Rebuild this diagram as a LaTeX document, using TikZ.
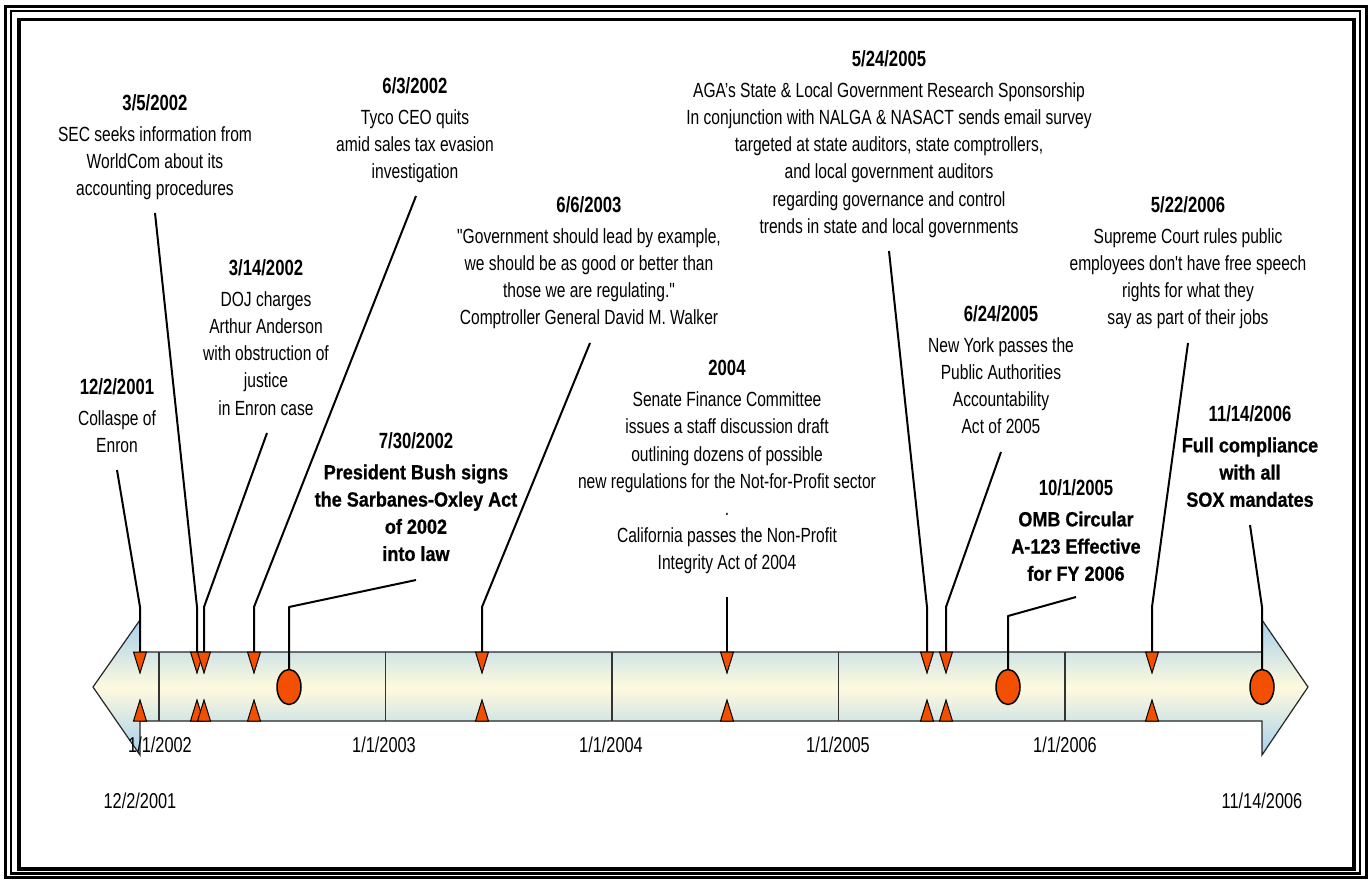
\documentclass[tikz,border=0pt]{standalone}
\usepackage{fontspec}
\setmainfont{Liberation Sans}[FakeStretch=0.76, Ligatures=TeXOff]
\newfontfamily\heavy{Liberation Sans}[FakeStretch=0.88, Ligatures=TeXOff, BoldFeatures={FakeBold=0.8}]
\newcommand\hv[1]{{\heavy\bfseries #1}}
\newcommand\hd[1]{{\fontsize{22}{27}\selectfont\bfseries #1}}
\usetikzlibrary{shapes.geometric}
\definecolor{markc}{RGB}{242,80,0}
\definecolor{abl}{RGB}{166,208,236}
\definecolor{acr}{RGB}{255,250,222}
\tikzset{
 txt/.style={align=center, font=\fontsize{20.5}{27.2}\selectfont, inner sep=0pt, anchor=north},
 lbl/.style={font=\fontsize{21.5}{24}\selectfont, inner sep=0pt},
 conn/.style={line width=2pt, line join=round},
 tri/.style={fill=markc, draw=black, line width=1pt, line join=miter},
 dot/.style={ellipse, fill=markc, draw=black, line width=1.5pt, minimum width=24pt, minimum height=35pt, inner sep=0pt},
 yearline/.style={draw=black!80, line width=1.2pt},
 frame/.style={draw=black},
}
\begin{document}
\begin{tikzpicture}[x=1pt,y=-1pt]
\useasboundingbox (0,0) rectangle (1369,879);
% frame
\draw[frame, line width=3pt] (5.5,6) rectangle (1366.5,877.5);
\draw[frame, line width=2.5pt] (11,11) rectangle (1360,873.5);
\draw[frame, line width=3.5pt] (19,19.5) rectangle (1354,869);
% arrow
\shade[top color=abl, bottom color=abl, middle color=acr, draw=black!85, line width=1.2pt, line join=miter]
 (93,687) -- (140,620) -- (140,652) -- (1262,652) -- (1262,620) -- (1308,687) -- (1262,755) -- (1262,721) -- (140,721) -- (140,755) -- cycle;
\foreach \x in {159,385.5,612,838.5,1065} {\draw[yearline] (\x,652) -- (\x,721);}
% year labels
\node[lbl] (y2002) at (160,745) {1/1/2002};
\node[lbl] (y2003) at (384,745) {1/1/2003};
\node[lbl] (y2004) at (611,745) {1/1/2004};
\node[lbl] (y2005) at (838,745) {1/1/2005};
\node[lbl] (y2006) at (1065,745) {1/1/2006};
\node[lbl] (ystart) at (140,801) {12/2/2001};
\node[lbl] (yend) at (1262,801) {11/14/2006};
% event texts
\node[txt] (e1) at (117,378) {\hd{12/2/2001}\\[4pt]Collaspe of\\Enron};
\node[txt] (e2) at (155,94) {\hd{3/5/2002}\\[4pt]SEC seeks information from\\WorldCom about its\\accounting procedures};
\node[txt] (e3) at (266,259) {\hd{3/14/2002}\\[4pt]DOJ charges\\Arthur Anderson\\with obstruction of\\justice\\in Enron case};
\node[txt] (e4) at (415,77) {\hd{6/3/2002}\\[4pt]Tyco CEO quits\\amid sales tax evasion\\investigation};
\node[txt] (e5) at (416,432) {\hd{7/30/2002}\\[4pt]\hv{President Bush signs}\\\hv{the Sarbanes-Oxley Act}\\\hv{of 2002}\\\hv{into law}};
\node[txt] (e6) at (589,196) {\hd{6/6/2003}\\[4pt]"Government should lead by example,\\we should be as good or better than\\those we are regulating."\\Comptroller General David M. Walker};
\node[txt] (e7) at (727,360) {\hd{2004}\\[4pt]Senate Finance Committee\\issues a staff discussion draft\\outlining dozens of possible\\new regulations for the Not-for-Profit sector\\.\\California passes the Non-Profit\\Integrity Act of 2004};
\node[txt] (e8) at (889,50) {\hd{5/24/2005}\\[4pt]AGA’s State \& Local Government Research Sponsorship\\In conjunction with NALGA \& NASACT sends email survey\\targeted at state auditors, state comptrollers,\\and local government auditors\\regarding governance and control\\trends in state and local governments};
\node[txt] (e9) at (1001,305) {\hd{6/24/2005}\\[4pt]New York passes the\\Public Authorities\\Accountability\\Act of 2005};
\node[txt] (e10) at (1076,479) {\hd{10/1/2005}\\[4pt]\hv{OMB Circular}\\\hv{A-123 Effective}\\\hv{for FY 2006}};
\node[txt] (e11) at (1188,196) {\hd{5/22/2006}\\[4pt]Supreme Court rules public\\employees don't have free speech\\rights for what they\\say as part of their jobs};
\node[txt] (e12) at (1250,405) {\hd{11/14/2006}\\[4pt]\hv{Full compliance}\\\hv{with all}\\\hv{SOX mandates}};
% circle markers
\node[dot] (d1) at (289,687) {};
\node[dot] (d2) at (1008,687) {};
\node[dot] (d3) at (1262,687) {};
% connector coordinates
\coordinate (s1) at (117,470);  \coordinate (b1) at (140,607);  \coordinate (m1) at (140,652);
\coordinate (s2) at (155,213);  \coordinate (b2) at (197,607);  \coordinate (m2) at (197,652);
\coordinate (s3) at (267,433);  \coordinate (b3) at (204,607);  \coordinate (m3) at (204,652);
\coordinate (s4) at (416,196);  \coordinate (b4) at (254,607);  \coordinate (m4) at (254,652);
\coordinate (s5) at (416,580);  \coordinate (b5) at (289,607);
\coordinate (s6) at (590,343);  \coordinate (b6) at (482,607);  \coordinate (m6) at (482,652);
\coordinate (s7) at (727,597);  \coordinate (m7) at (727,652);
\coordinate (s8) at (889,251);  \coordinate (b8) at (927,607);  \coordinate (m8) at (927,652);
\coordinate (s9) at (1001,452); \coordinate (b9) at (946,607);  \coordinate (m9) at (946,652);
\coordinate (s10) at (1076,597);\coordinate (b10) at (1008,616);
\coordinate (s11) at (1188,343);\coordinate (b11) at (1152,607); \coordinate (m11) at (1152,652);
\coordinate (s12) at (1250,525);\coordinate (b12) at (1262,607);
% connectors
\draw[conn] (s1) -- (b1) -- (m1);
\draw[conn] (s2) -- (b2) -- (m2);
\draw[conn] (s3) -- (b3) -- (m3);
\draw[conn] (s4) -- (b4) -- (m4);
\draw[conn] (s5) -- (b5) -- (d1.north);
\draw[conn] (s6) -- (b6) -- (m6);
\draw[conn] (s7) -- (m7);
\draw[conn] (s8) -- (b8) -- (m8);
\draw[conn] (s9) -- (b9) -- (m9);
\draw[conn] (s10) -- (b10) -- (d2.north);
\draw[conn] (s11) -- (b11) -- (m11);
\draw[conn] (s12) -- (b12) -- (d3.north);
% triangle markers
\foreach \x in {140,197,204,254,482,727,927,946,1152} {
 \draw[tri] (\x-6.5,652) -- (\x+6.5,652) -- (\x,673) -- cycle;
 \draw[tri] (\x-6.5,721) -- (\x+6.5,721) -- (\x,700) -- cycle;
}
\end{tikzpicture}
\end{document}
